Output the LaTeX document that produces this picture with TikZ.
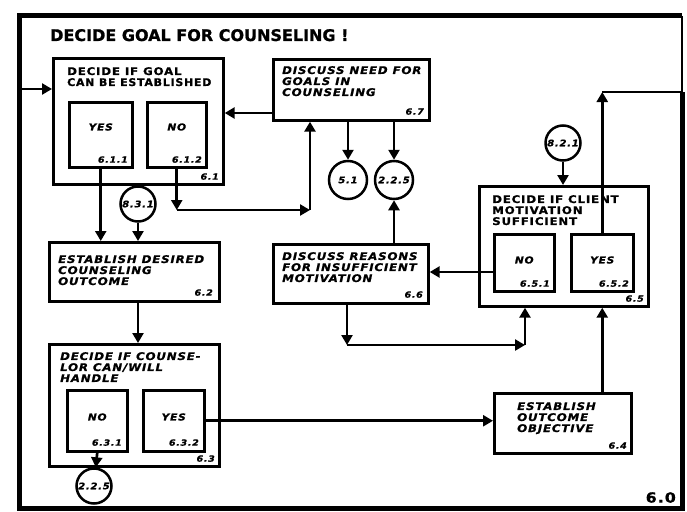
\documentclass[tikz,border=0pt]{standalone}
\usepackage{fontspec}
\usepackage{graphicx}
\newfontfamily\lettering{DejaVu Sans}[FakeStretch=1.12, LetterSpace=8, FakeBold=1]
\newfontfamily\titlelettering{DejaVu Sans}[FakeBold=1]
\usepackage{tikz}
\usetikzlibrary{arrows.meta, positioning}

\begin{document}
\begin{tikzpicture}[
    x=1pt, y=-1pt,
    stepbox/.style={draw, line width=2.7pt, anchor=north west, inner sep=0pt},
    choice/.style={draw, line width=2.5pt, anchor=north west, inner sep=0pt},
    conn/.style={circle, draw, line width=2.5pt, minimum size=35pt, inner sep=0pt, font=\lettering\bfseries\itshape\fontsize{9}{9}\selectfont},
    flow/.style={-{Triangle[length=10pt,width=11pt]}, line width=2.7pt},
    link/.style={line width=2.7pt},
    frame/.style={line width=5pt},
    boxtext/.style={anchor=north west, align=left, inner sep=0pt, font=\lettering\bfseries\itshape\fontsize{10.5}{11}\selectfont},
    headtext/.style={boxtext, font=\lettering\bfseries\fontsize{10.5}{11}\selectfont},
    ans/.style={inner sep=0pt, font=\lettering\bfseries\itshape\fontsize{9.5}{10}\selectfont},
    num/.style={anchor=south east, inner sep=0pt, font=\lettering\bfseries\itshape\fontsize{8.5}{8.5}\selectfont}
  ]
  \useasboundingbox (0,0) rectangle (687,511);

  % frame of sheet 6.0
  \draw[frame] (682,92) -- (682,508) -- (19,508) -- (19,16) -- (682,16);
  \draw[line width=2.5pt] (682,16) -- (682,92);
  \node[anchor=base west, inner sep=0pt, font=\titlelettering\bfseries\fontsize{16}{17}\selectfont] (title) at (50,41) {DECIDE GOAL FOR COUNSELING !};
  \node[num, font=\lettering\bfseries\fontsize{14}{14}\selectfont] (sheet) at (676,503) {6.0};

  % boxes
  \node[stepbox, minimum width=170pt, minimum height=126pt] (b61) at (52,57) {};
  \node[choice, minimum width=63pt, minimum height=65pt] (yes611) at (68,101) {};
  \node[choice, minimum width=59pt, minimum height=65pt] (no612) at (146,101) {};
  \node[stepbox, minimum width=156pt, minimum height=61pt] (b67) at (272,58) {};
  \node[stepbox, minimum width=170pt, minimum height=59pt] (b62) at (48,241) {};
  \node[stepbox, minimum width=170pt, minimum height=122pt] (b63) at (48,343) {};
  \node[choice, minimum width=60pt, minimum height=61pt] (no631) at (66,389) {};
  \node[choice, minimum width=61pt, minimum height=61pt] (yes632) at (142,389) {};
  \node[stepbox, minimum width=155pt, minimum height=59pt] (b66) at (272,243) {};
  \node[stepbox, minimum width=169pt, minimum height=120pt] (b65) at (478,185) {};
  \node[choice, minimum width=60pt, minimum height=57pt] (no651) at (493,233) {};
  \node[choice, minimum width=62pt, minimum height=57pt] (yes652) at (570,233) {};
  \node[stepbox, minimum width=137pt, minimum height=60pt] (b64) at (493,392) {};

  % connectors to other sheets
  \node[conn, minimum size=38pt] (c51) at (348,180) {5.1};
  \node[conn, minimum size=38pt] (c225a) at (394,180) {2.2.5};
  \node[conn] (c831) at (138,204) {8.3.1};
  \node[conn] (c821) at (563,143) {8.2.1};
  \node[conn] (c225b) at (94,486) {2.2.5};

  % corners
  \coordinate (entry) at (19,89);
  \coordinate (k1) at (no612.south |- 0,210);
  \coordinate (k2) at (310,210);
  \coordinate (k3) at (347,345);
  \coordinate (k4) at (525,345);
  \coordinate (k5) at (yes652.north |- 0,92);
  \coordinate (k6) at (682,92);

  % connectors
  \draw[flow] (entry) -- (entry -| b61.west);
  \draw[flow] (b67.west |- 0,113) -- (b61.east |- 0,113);
  \draw[flow] (no612.south) -- (k1);
  \draw[flow] (k1) -- (k2);
  \draw[flow] (k2) -- (k2 |- b67.south);
  \draw[flow] (c51 |- b67.south) -- (c51);
  \draw[flow] (c225a |- b67.south) -- (c225a);
  \draw[flow] (c225a |- b66.north) -- (c225a);
  \draw[flow] (yes611.south) -- (yes611.south |- b62.north);
  \draw[flow] (c831) -- (c831 |- b62.north);
  \draw[flow] (c831 |- b62.south) -- (c831 |- b63.north);
  \draw[flow] (no631.south) -- (c225b);
  \draw[flow] (yes632.east) -- (yes632.east -| b64.west);
  \draw[flow] (yes652 |- b64.north) -- (yes652 |- b65.south);
  \draw[flow] (k3 |- b66.south) -- (k3);
  \draw[flow] (k3) -- (k4);
  \draw[flow] (k4) -- (k4 |- b65.south);
  \draw[flow] (no651.west |- 0,272) -- (b66.east |- 0,272);
  \draw[flow] (c821) -- (c821 |- b65.north);
  \draw[flow] (yes652.north) -- (k5);
  \draw[link] (k5) -- (k6);

  % texts in the boxes
  \node[headtext] (t61) at (67,67) {DECIDE IF GOAL\\\scalebox{0.93}[1]{CAN BE ESTABLISHED}};
  \node[ans] at (yes611 |- 0,127) {YES};
  \node[num] at (128,163) {6.1.1};
  \node[ans] at (no612 |- 0,127) {NO};
  \node[num] at (202,163) {6.1.2};
  \node[num] at (219,180) {6.1};

  \node[boxtext] (t67) at (282,66) {DISCUSS NEED FOR\\GOALS IN\\COUNSELING};
  \node[num] at (424,115) {6.7};

  \node[boxtext] (t62) at (58,255) {ESTABLISH DESIRED\\COUNSELING\\OUTCOME};
  \node[num] at (213,296) {6.2};

  \node[boxtext] (t63) at (60,352) {DECIDE IF COUNSE-\\LOR CAN/WILL\\HANDLE};
  \node[ans] at (no631 |- 0,417) {NO};
  \node[num] at (122,446) {6.3.1};
  \node[ans] at (yes632 |- 0,417) {YES};
  \node[num] at (199,446) {6.3.2};
  \node[num] at (215,462) {6.3};

  \node[boxtext] (t66) at (282,252) {DISCUSS REASONS\\FOR INSUFFICIENT\\MOTIVATION};
  \node[num] at (423,298) {6.6};

  \node[headtext] (t65) at (492,195) {DECIDE IF CLIENT\\MOTIVATION\\SUFFICIENT};
  \node[ans] at (no651 |- 0,260) {NO};
  \node[num] at (550,287) {6.5.1};
  \node[ans] at (yes652 |- 0,260) {YES};
  \node[num] at (629,287) {6.5.2};
  \node[num] at (644,302) {6.5};

  \node[boxtext] (t64) at (517,402) {ESTABLISH\\OUTCOME\\OBJECTIVE};
  \node[num] at (627,449) {6.4};

\end{tikzpicture}
\end{document}
